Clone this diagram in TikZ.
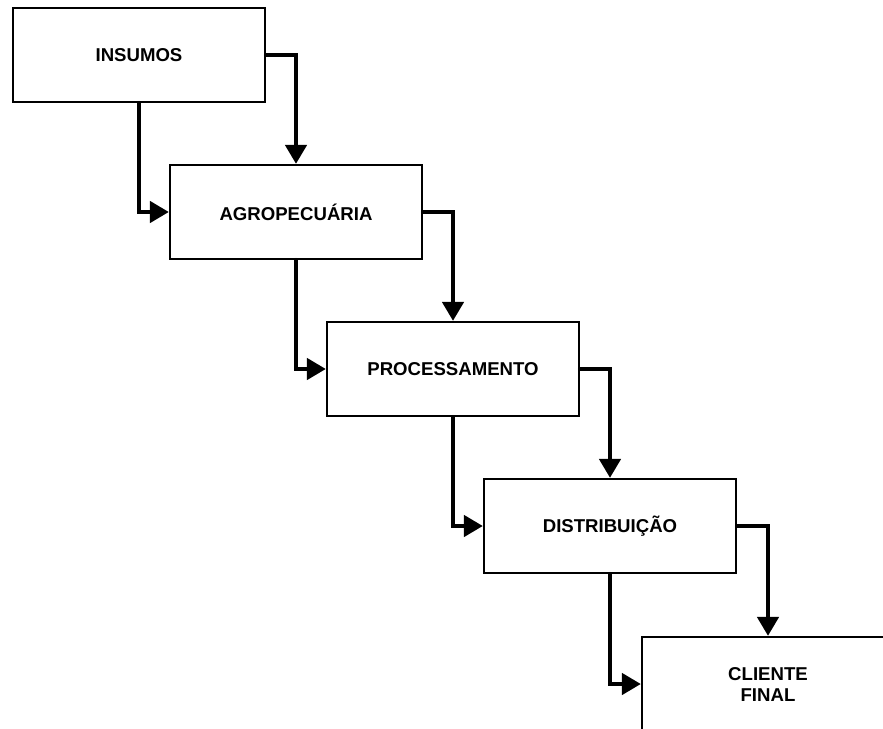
\documentclass[tikz,border=0pt]{standalone}
\usepackage{fontspec}
\setmainfont{Liberation Sans}
\usetikzlibrary{arrows.meta}
\begin{document}
\begin{tikzpicture}[x=1pt,y=-1pt,
  stage/.style={draw, line width=2.2pt, minimum width=252pt, minimum height=94pt,
    inner sep=0pt, align=center, font=\fontsize{18.6}{21}\selectfont\bfseries},
  flow/.style={line width=4.4pt, line cap=round, line join=miter,
    -{Triangle[length=19pt,width=21pt]}}]
  \useasboundingbox (0,0) rectangle (883,728);
  \clip (0,0) rectangle (883,728);
  \node[stage] (ins) at (139,55) {INSUMOS};
  \node[stage] (agr) at (296,212) {AGROPECUÁRIA};
  \node[stage] (pro) at (453,369) {PROCESSAMENTO};
  \node[stage] (dis) at (610,526) {DISTRIBUIÇÃO};
  \node[stage] (cli) at (768,684) {CLIENTE\\FINAL};
  \foreach \a/\b in {ins/agr, agr/pro, pro/dis, dis/cli}{
    \draw[flow] (\a.east) -| (\b.north);
    \draw[flow] (\a.south) |- (\b.west);
  }
\end{tikzpicture}
\end{document}
